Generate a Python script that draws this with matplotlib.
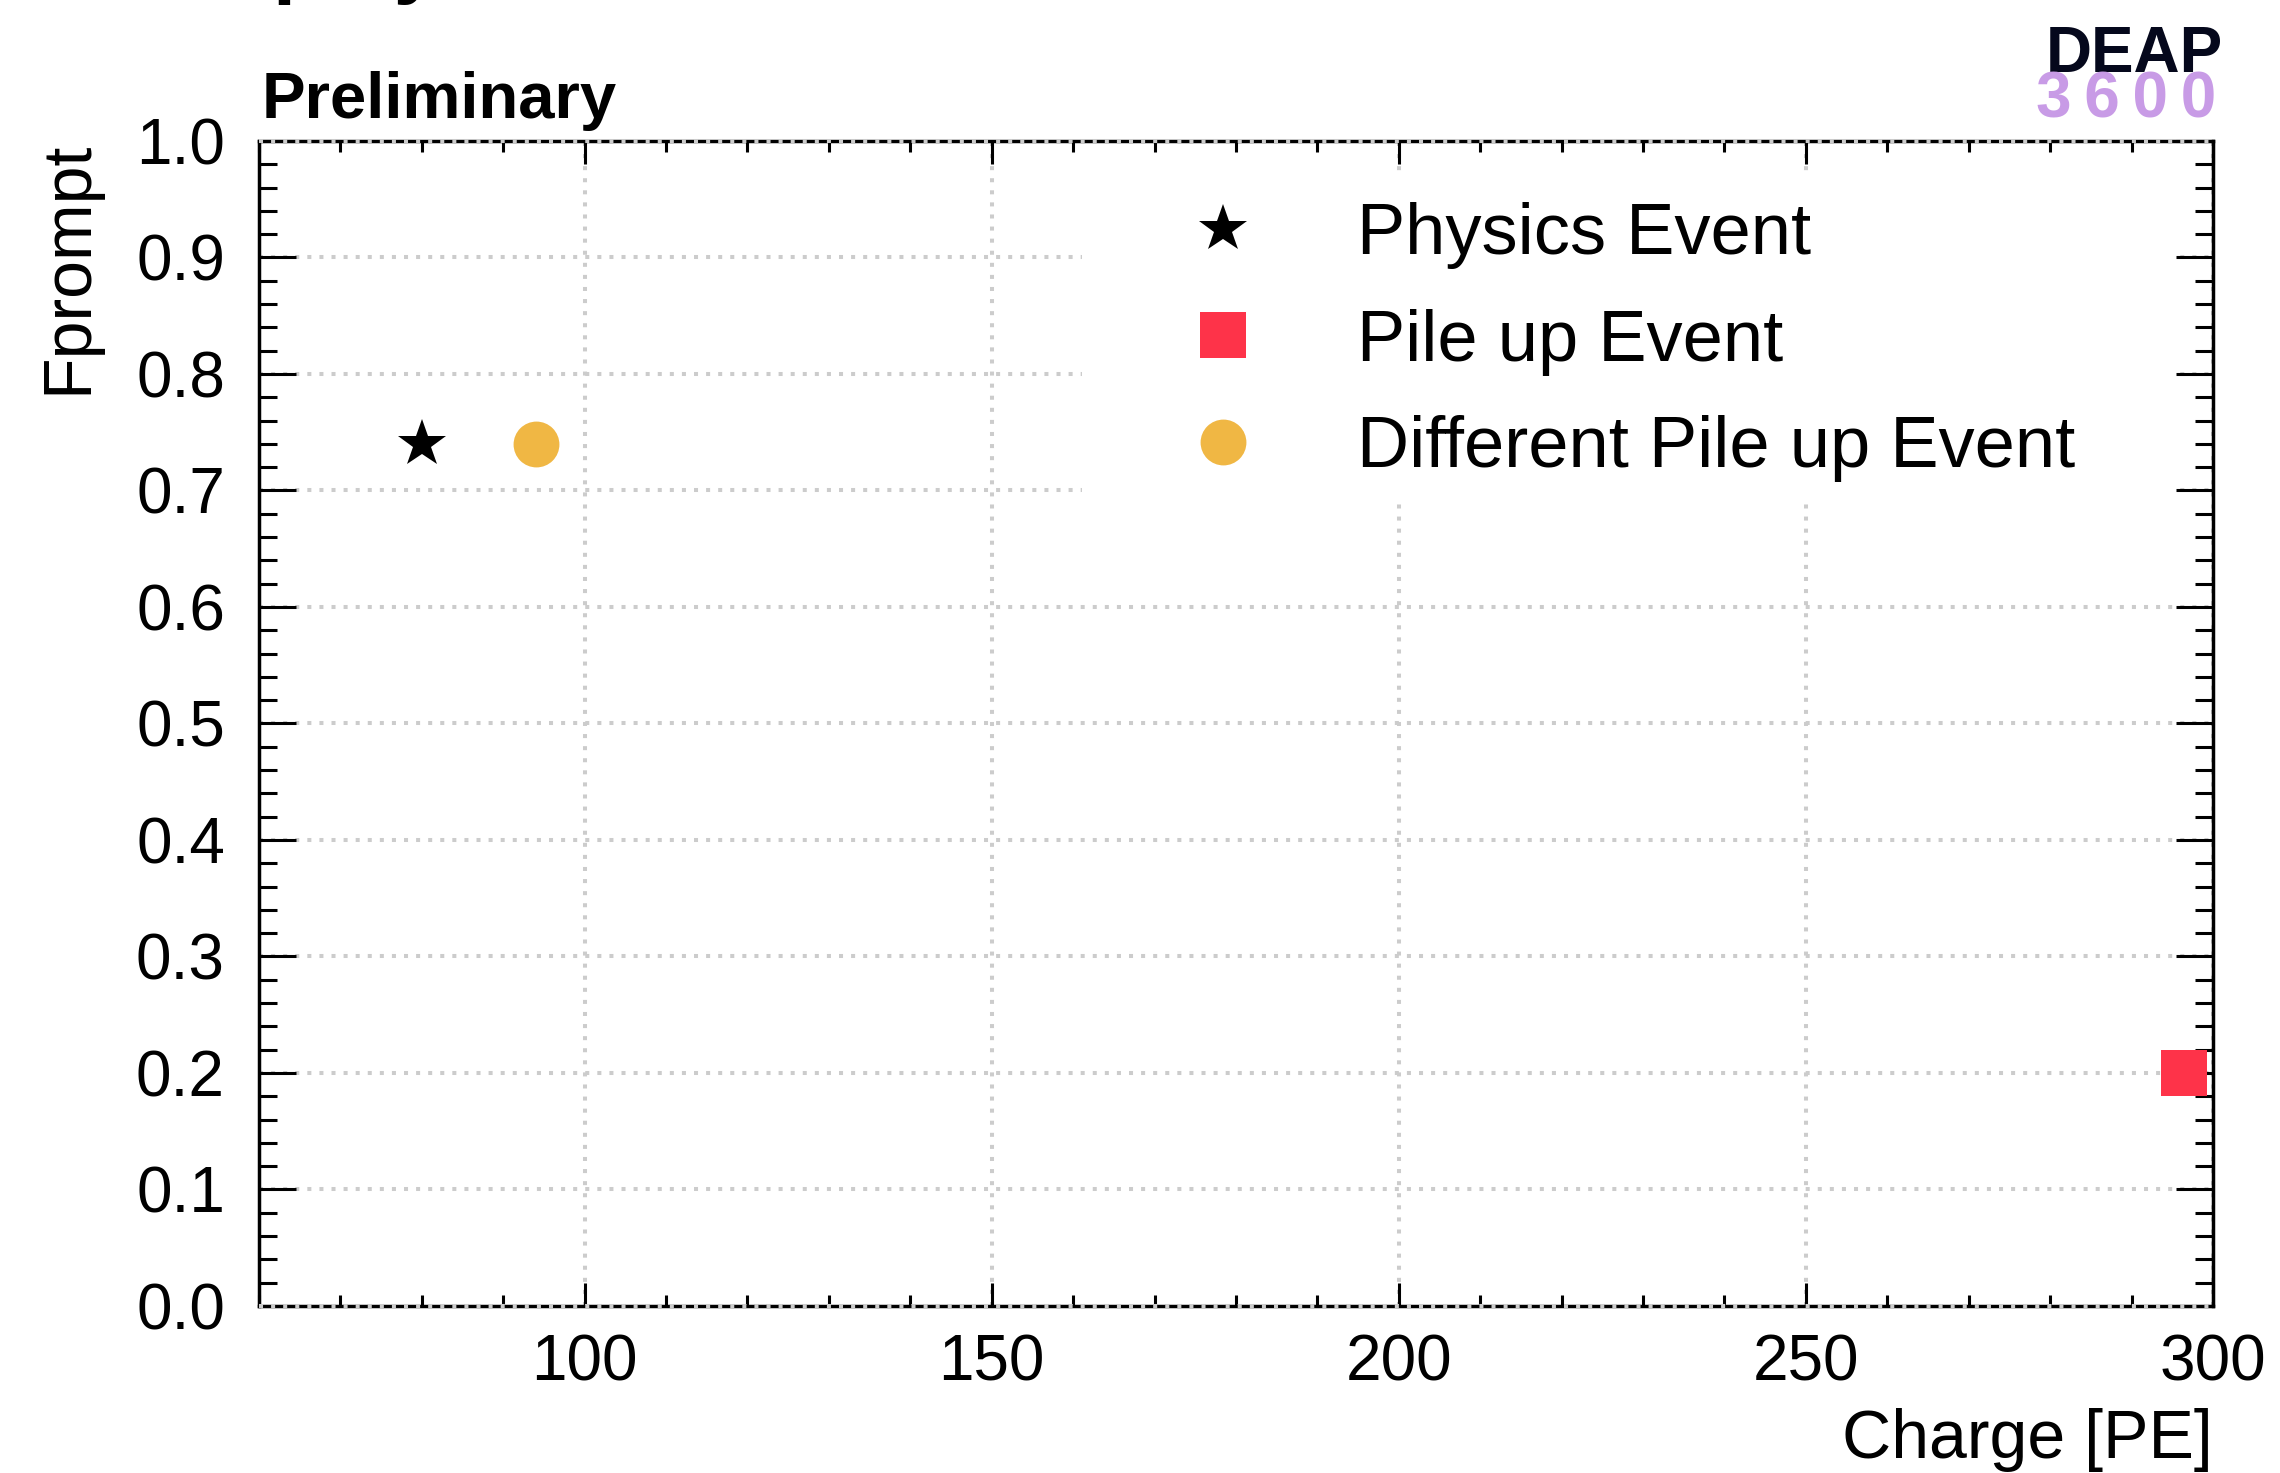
import matplotlib
matplotlib.use("Agg")
import matplotlib.pyplot as plt
from matplotlib.ticker import MultipleLocator, FormatStrFormatter
from matplotlib.patches import Rectangle

plt.rcParams['font.family'] = ['Liberation Sans', 'DejaVu Sans']

# event positions in (charge, fprompt)
labels = ['Physics Event', 'Pile up Event', 'Different Pile up Event']
charge = [80.0, 296.5, 94.0]
fprompt = [0.74, 0.20, 0.74]
markers = ['*', 's', 'o']
colors = ['#000000', '#fe3349', '#f0b744']
sizes = [36, 33, 33]

fig = plt.figure(figsize=(22.8, 14.73), dpi=100)
ax = fig.add_axes([0.1136, 0.1134, 0.9706 - 0.1136, 0.9043 - 0.1134])

for x, y, lab, m, c, s in zip(charge, fprompt, labels, markers, colors, sizes):
    ax.plot([x], [y], linestyle='none', marker=m, color=c, markersize=s,
            markeredgewidth=0, label=lab, zorder=4, clip_on=False)

ax.set_xlim(60, 300)
ax.set_ylim(0, 1)

ax.xaxis.set_major_locator(MultipleLocator(50))
ax.xaxis.set_minor_locator(MultipleLocator(10))
ax.yaxis.set_major_locator(MultipleLocator(0.1))
ax.yaxis.set_minor_locator(MultipleLocator(0.02))
ax.yaxis.set_major_formatter(FormatStrFormatter('%.1f'))

ax.tick_params(axis='both', which='both', direction='in', top=True, right=True,
               width=2.2, color='black', labelsize=46)
ax.tick_params(axis='x', which='major', length=16.6, pad=20)
ax.tick_params(axis='x', which='minor', length=8)
ax.tick_params(axis='y', which='major', length=26.6, pad=24.5)
ax.tick_params(axis='y', which='minor', length=13)
for sp in ax.spines.values():
    sp.set_linewidth(2.5)

grid_style = dict(color='#cccccc', linewidth=2.9, linestyle=(0, (1, 2)))
ax.set_axisbelow(True)
ax.grid(True, which='major', **grid_style)
# frame edges at y=0 and y=1 get the dotted grid laid on top, ROOT style
for yv in (0.0, 1.0):
    ax.axhline(yv, zorder=3, clip_on=False, **grid_style)

# white legend box hides the grid behind the entries
ax.add_patch(Rectangle((0.4212, 0.692), 0.981 - 0.4212, 0.968 - 0.692,
                       transform=ax.transAxes, facecolor='white',
                       edgecolor='none', zorder=1))

ax.legend(loc='upper left', bbox_to_anchor=(0.5206, 0.8629),
          bbox_transform=fig.transFigure, frameon=False, fontsize=52,
          borderpad=0, borderaxespad=0, handlelength=1.0,
          handletextpad=1.36, labelspacing=0.55, numpoints=1)

ax.set_xlabel('Charge [PE]', fontsize=49, loc='right')
ax.xaxis.set_label_coords(1.0, -0.0876)
ax.set_ylabel('Fprompt', fontsize=49, loc='top')
ax.yaxis.set_label_coords(-0.0814, 1.0)

fig.text(0.1149, 0.9199, 'Preliminary', fontsize=47, fontweight='bold',
         ha='left', va='baseline')
# canvas title sits above the frame, only its descenders reach the page
fig.text(440 / 2280, 1.0 + 12 / 1473, 'Event Display', fontsize=60,
         fontweight='bold', ha='right', va='baseline')

fig.text(2223 / 2280, 0.9511, 'DEAP', fontsize=46, fontweight='bold',
         color='#05081c', ha='right', va='baseline')
fig.text(2216 / 2280, 0.9199, '3\u20096\u20090\u20090', fontsize=46,
         fontweight='bold', color='#c89be6', ha='right', va='baseline')

fig.savefig('out.png', dpi=100)
